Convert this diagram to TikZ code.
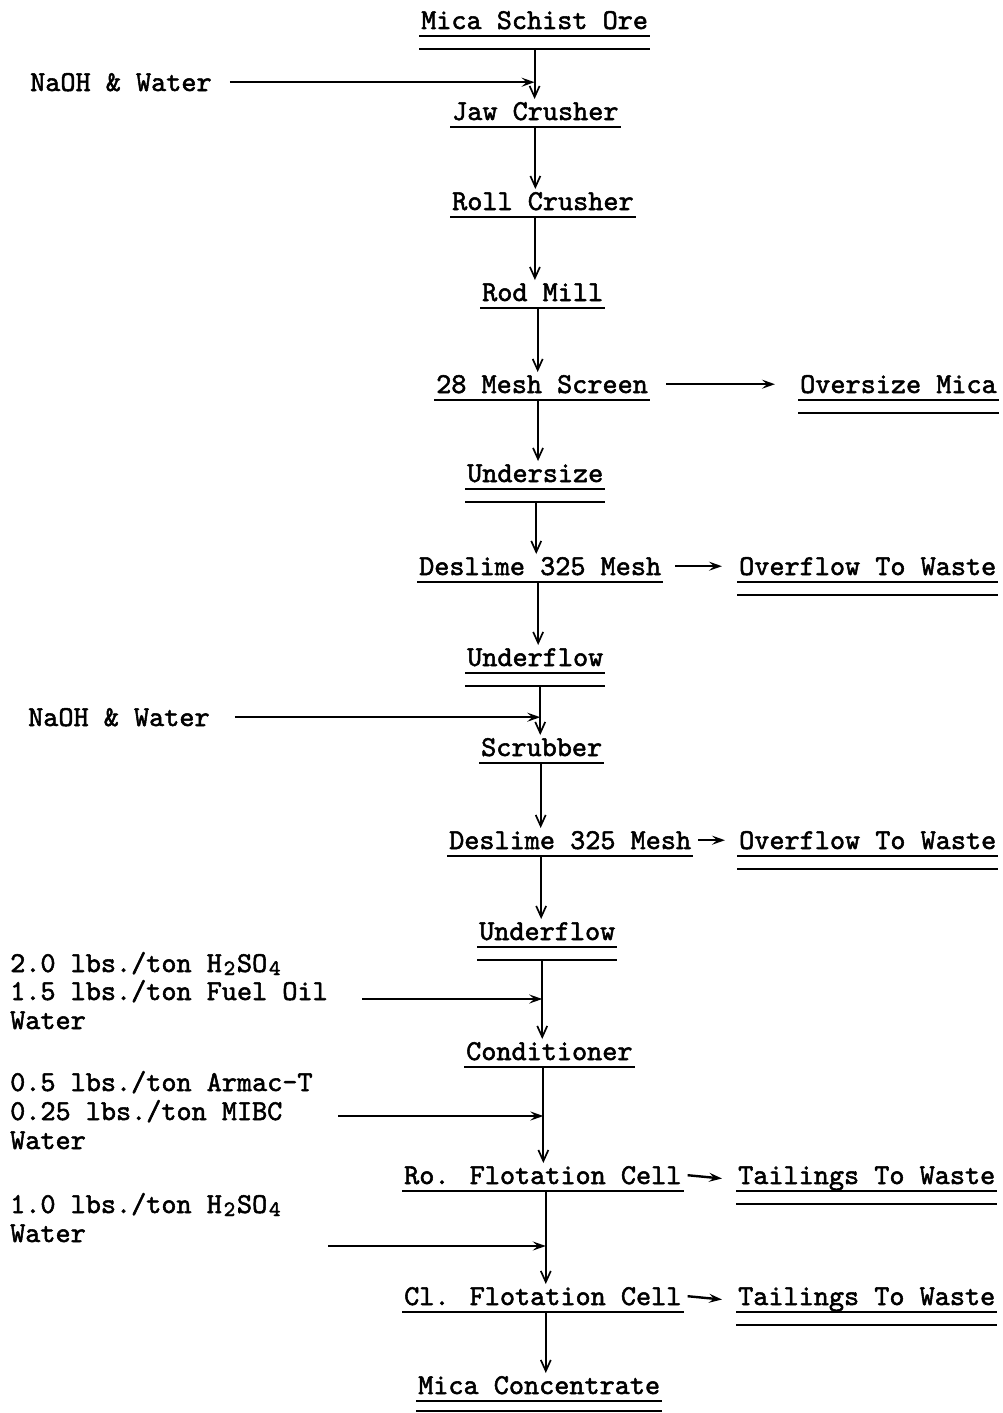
\documentclass[tikz,border=0pt]{standalone}
\usepackage{fontspec}
\newfontfamily\tw{lmmono10-regular}[Extension=.otf, FakeBold=1.8]
\usetikzlibrary{arrows.meta}
\newcommand\sbs[1]{\makebox[15.12pt]{\raisebox{-3pt}[0pt][0pt]{\fontsize{22}{22}\selectfont #1}}}
\begin{document}
\begin{tikzpicture}[x=1pt,y=-1pt,
  lbl/.style={font={\tw\fontsize{28.8}{30}\selectfont}, inner sep=0pt, anchor=base west},
  uline/.style={line width=2.2pt},
  flow/.style={line width=1.8pt, -{Straight Barb[length=11pt,width=10pt,line width=1.7pt]}},
  side/.style={line width=2.4pt, -{Stealth[length=13pt,width=9pt,inset=5pt]}}]
\useasboundingbox (0,0) rectangle (1002,1413);
% main column
\node[lbl] (ore)  at (421,29)   {Mica Schist Ore};
\node[lbl] (jaw)  at (452,120)  {Jaw Crusher};
\node[lbl] (roll) at (452,210)  {Roll Crusher};
\node[lbl] (rod)  at (482,301)  {Rod Mill};
\node[lbl] (mesh) at (436,393)  {28 Mesh Screen};
\node[lbl] (over) at (800,393)  {Oversize Mica};
\node[lbl] (und)  at (467,482)  {Undersize};
\node[lbl] (des1) at (419,575)  {Deslime 325 Mesh};
\node[lbl] (ovf1) at (739,575)  {Overflow To Waste};
\node[lbl] (uf1)  at (467,666)  {Underflow};
\node[lbl] (scr)  at (481,756)  {Scrubber};
\node[lbl] (des2) at (449,849)  {Deslime 325 Mesh};
\node[lbl] (ovf2) at (739,849)  {Overflow To Waste};
\node[lbl] (uf2)  at (479,940)  {Underflow};
\node[lbl] (cond) at (466,1060) {Conditioner};
\node[lbl] (ro)   at (404,1184) {Ro. Flotation Cell};
\node[lbl] (tl1)  at (738,1184) {Tailings To Waste};
\node[lbl] (cl)   at (404,1305) {Cl. Flotation Cell};
\node[lbl] (tl2)  at (738,1305) {Tailings To Waste};
\node[lbl] (conc) at (418,1394) {Mica Concentrate};
% left inputs
\node[lbl] (naoh1) at (30,91)  {NaOH \& Water};
\node[lbl] (naoh2) at (28,726) {NaOH \& Water};
\node[lbl] (a1) at (10,972)  {2.0 lbs./ton H\sbs{2}SO\sbs{4}};
\node[lbl] (a2) at (10,1000) {1.5 lbs./ton Fuel Oil};
\node[lbl] (a3) at (10,1029) {Water};
\node[lbl] (b1) at (10,1091) {0.5 lbs./ton Armac-T};
\node[lbl] (b2) at (10,1120) {0.25 lbs./ton MIBC};
\node[lbl] (b3) at (10,1149) {Water};
\node[lbl] (c1) at (10,1213) {1.0 lbs./ton H\sbs{2}SO\sbs{4}};
\node[lbl] (c2) at (10,1242) {Water};
% underlines
\foreach \n in {ore,jaw,roll,rod,mesh,over,und,des1,ovf1,uf1,scr,des2,ovf2,uf2,cond,ro,tl1,cl,tl2,conc}
  \draw[uline] ([xshift=-2pt,yshift=-7pt]\n.base west) -- ([xshift=2pt,yshift=-7pt]\n.base east);
\foreach \n in {ore,over,und,ovf1,uf1,ovf2,uf2,tl1,tl2}
  \draw[uline] ([xshift=-2pt,yshift=-20pt]\n.base west) -- ([xshift=2pt,yshift=-20pt]\n.base east);
\draw[uline] ([xshift=-2pt,yshift=-17pt]conc.base west) -- ([xshift=2pt,yshift=-17pt]conc.base east);
% vertical flow start points
\coordinate (v1)  at ([yshift=-20pt]ore.base);
\coordinate (v2)  at ([yshift=-7pt]jaw.base);
\coordinate (v3)  at ([xshift=-8pt,yshift=-7pt]roll.base);
\coordinate (v4)  at ([xshift=-5pt,yshift=-7pt]rod.base);
\coordinate (v5)  at ([xshift=-4pt,yshift=-7pt]mesh.base);
\coordinate (v6)  at ([xshift=1pt,yshift=-20pt]und.base);
\coordinate (v7)  at ([xshift=-2pt,yshift=-7pt]des1.base);
\coordinate (v8)  at ([xshift=5pt,yshift=-20pt]uf1.base);
\coordinate (v9)  at ([xshift=-1pt,yshift=-7pt]scr.base);
\coordinate (v10) at ([xshift=-29pt,yshift=-7pt]des2.base);
\coordinate (v11) at ([xshift=-5pt,yshift=-20pt]uf2.base);
\coordinate (v12) at ([xshift=-6pt,yshift=-7pt]cond.base);
\coordinate (v13) at ([xshift=3pt,yshift=-7pt]ro.base);
\coordinate (v14) at ([xshift=3pt,yshift=-7pt]cl.base);
% tops of targets
\foreach \n in {jaw,roll,rod,mesh,und,des1,uf1,scr,des2,uf2,cond,ro,cl,conc}
  \coordinate (\n-t) at ([yshift=21pt]\n.base);
\draw[flow] (v1)  -- (v1  |- jaw-t);
\draw[flow] (v2)  -- (v2  |- roll-t);
\draw[flow] (v3)  -- (v3  |- rod-t);
\draw[flow] (v4)  -- (v4  |- mesh-t);
\draw[flow] (v5)  -- (v5  |- und-t);
\draw[flow] (v6)  -- (v6  |- des1-t);
\draw[flow] (v7)  -- (v7  |- uf1-t);
\draw[flow] (v8)  -- (v8  |- scr-t);
\draw[flow] (v9)  -- (v9  |- des2-t);
\draw[flow] (v10) -- (v10 |- uf2-t);
\draw[flow] (v11) -- (v11 |- cond-t);
\draw[flow] (v12) -- (v12 |- ro-t);
\draw[flow] (v13) -- (v13 |- cl-t);
\draw[flow] (v14) -- (v14 |- conc-t);
% horizontal outputs
\draw[side] ([xshift=18pt]mesh.east) -- ([xshift=-25pt]over.west);
\draw[side] ([xshift=14pt]des1.east) -- ([xshift=-17pt]ovf1.west);
\draw[side] ([xshift=7pt]des2.east)  -- ([xshift=-14pt]ovf2.west);
\draw[side] ([xshift=6pt]ro.east)    -- ([xshift=-16pt]tl1.west);
\draw[side] ([xshift=6pt]cl.east)    -- ([xshift=-16pt]tl2.west);
% inputs from the left
\coordinate (s1) at (362,999);
\coordinate (s2) at (338,1116);
\coordinate (s3) at (328,1246);
\draw[side] ([xshift=18pt]naoh1.east) -- (v1 |- naoh1.east);
\draw[side] ([xshift=25pt]naoh2.east) -- (v8 |- naoh2.east);
\draw[side] (s1) -- (v11 |- s1);
\draw[side] (s2) -- (v12 |- s2);
\draw[side] (s3) -- (v13 |- s3);
\end{tikzpicture}
\end{document}
